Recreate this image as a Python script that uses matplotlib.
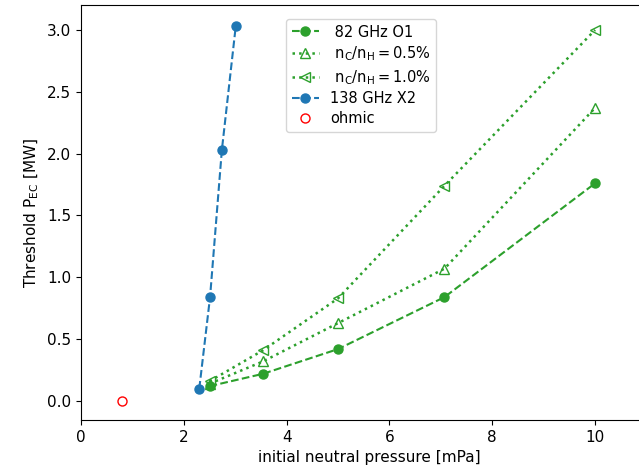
import numpy as np
import matplotlib
matplotlib.use('Agg')
from matplotlib import pyplot as plt

# pressure values [mPa]
p_o1 = [2.5, 3.54, 5.0, 7.07, 10.0]
pec_o1 = [0.12, 0.22, 0.42, 0.84, 1.76]
pec_c05 = [0.14, 0.32, 0.63, 1.07, 2.37]
pec_c10 = [0.16, 0.41, 0.83, 1.74, 3.0]

p_x2 = [2.3, 2.51, 2.74, 3.01]
pec_x2 = [0.10, 0.84, 2.03, 3.03]

p_ohmic = [0.8]
pec_ohmic = [0.0]

fig = plt.figure(figsize=(6.39, 4.72), dpi=100)
# axes run a bit past the right edge (right spine cut off, like the original)
ax = fig.add_axes([0.1268, 0.110, 0.901, 0.879])

ax.plot(p_o1, pec_o1, '--o', color='tab:green', lw=1.5, ms=6.5, label=' 82 GHz O1')
ax.plot(p_o1, pec_c05, ':^', color='tab:green', lw=1.8, ms=6.5, mfc='none',
        label=r' $\mathrm{n_C/n_H = 0.5\%}$')
ax.plot(p_o1, pec_c10, ':<', color='tab:green', lw=1.8, ms=6.5, mfc='none',
        label=r' $\mathrm{n_C/n_H = 1.0\%}$')
ax.plot(p_x2, pec_x2, '--o', color='tab:blue', lw=1.5, ms=6.5, label='138 GHz X2')
ax.plot(p_ohmic, pec_ohmic, 'o', color='red', ms=6.5, mfc='none', lw=0, label='ohmic')

ax.set_xlim(0, 11.2)
ax.set_ylim(-0.154, 3.2)
ax.set_xticks([0, 2, 4, 6, 8, 10])
ax.set_xlabel('initial neutral pressure [mPa]', fontsize=11)
ax.set_ylabel(r'Threshold P$_{\mathrm{EC}}$ [MW]', fontsize=11)
ax.tick_params(labelsize=11)

ax.legend(loc='upper center', bbox_to_anchor=(0.487, 0.985), fontsize=10.5,
          labelspacing=0.33, handlelength=1.8)

plt.savefig('out.png', dpi=100)
